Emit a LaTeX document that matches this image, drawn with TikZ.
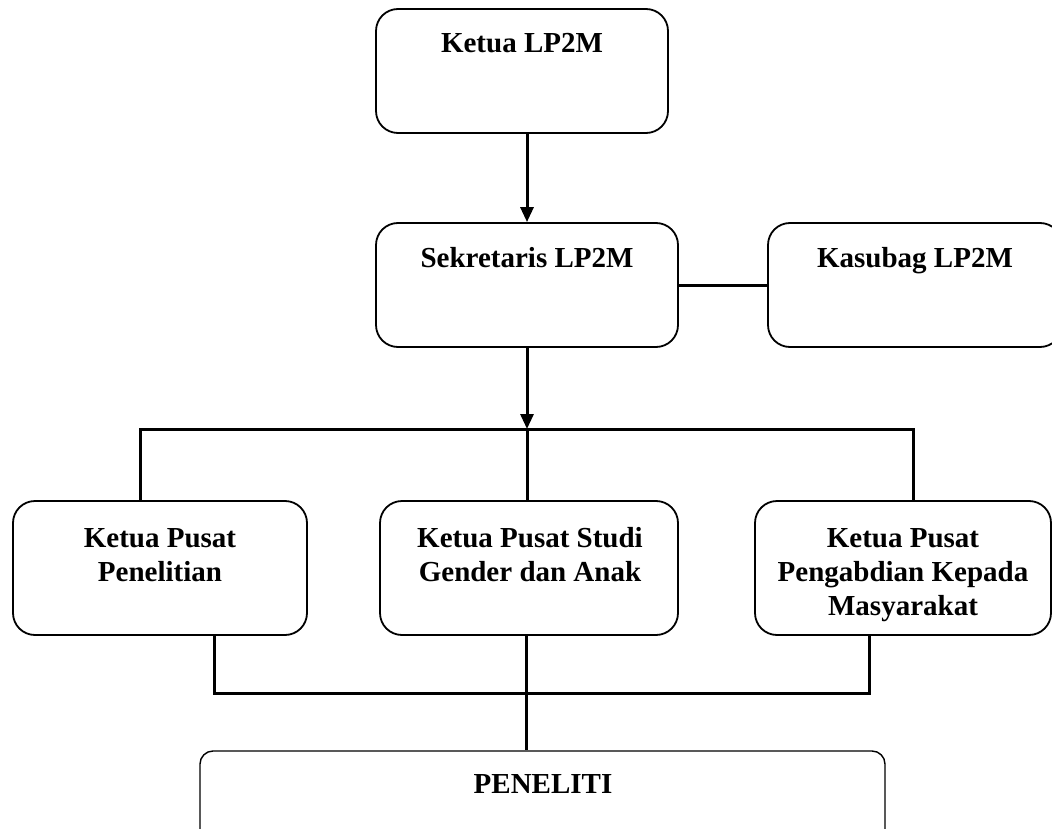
\documentclass[tikz,border=0pt]{standalone}
\usepackage{fontspec}
\setmainfont{Liberation Serif}
\usetikzlibrary{arrows.meta}
\begin{document}
\begin{tikzpicture}[x=1pt,y=-1pt,
  orgbox/.style={draw, line width=1.8pt, rounded corners=22pt, inner sep=0pt, minimum width=#1},
  txt/.style={font=\fontsize{29}{34}\selectfont\bfseries, align=center, inner sep=0pt, anchor=base},
  conn/.style={line width=3pt},
  arr/.style={line width=3pt, -{Triangle[length=15pt,width=13pt]}}]
\useasboundingbox (0,0) rectangle (1052,829);
\clip (0,0) rectangle (1052,829);
% boxes
\node[orgbox=292pt, minimum height=124pt] (k) at (522,71) {};
\node[orgbox=302pt, minimum height=124pt] (s) at (527,285) {};
\node[orgbox=294pt, minimum height=124pt] (kb) at (915,285) {};
\node[orgbox=294pt, minimum height=134pt] (p1) at (160,568) {};
\node[orgbox=298pt, minimum height=134pt] (p2) at (529,568) {};
\node[orgbox=296pt, minimum height=134pt] (p3) at (903,568) {};
\node[draw, line width=1.4pt, rounded corners=13pt, inner sep=0pt, minimum width=685pt, minimum height=130pt] (pen) at (542.5,816) {};
% texts (base = baseline of the last line)
\node[txt] (tk) at (522,53) {Ketua LP2M};
\node[txt] (ts) at (527,267) {Sekretaris LP2M};
\node[txt] (tkb) at (915,267) {Kasubag LP2M};
\node[txt] (tp1) at (160,581) {Ketua Pusat\\Penelitian};
\node[txt] (tp2) at (530,581) {Ketua Pusat Studi\\Gender dan Anak};
\node[txt] (tp3) at (903,615) {Ketua Pusat\\Pengabdian Kepada\\Masyarakat};
\node[txt] (tpen) at (543,793) {PENELITI};
% junctions
\coordinate (j1) at (527,429);
\coordinate (jL) at (140,429);
\coordinate (jR) at (913,429);
\coordinate (bM) at (526,693);
\coordinate (bL) at (214,693);
\coordinate (bR) at (869,693);
% connectors
\draw[arr] (k.south -| s.north) -- (s.north);
\draw[conn] (s.east) -- (kb.west);
\draw[arr] (s.south) -- (j1);
\draw[conn] (p1.north -| jL) -- (jL) -- (jR) -- (jR |- p3.north);
\draw[conn] (j1) -- (j1 |- p2.north);
\draw[conn] (bL |- p1.south) -- (bL) -- (bR) -- (bR |- p3.south);
\draw[conn] (bM |- p2.south) -- (bM) -- (bM |- pen.north);
\end{tikzpicture}
\end{document}
